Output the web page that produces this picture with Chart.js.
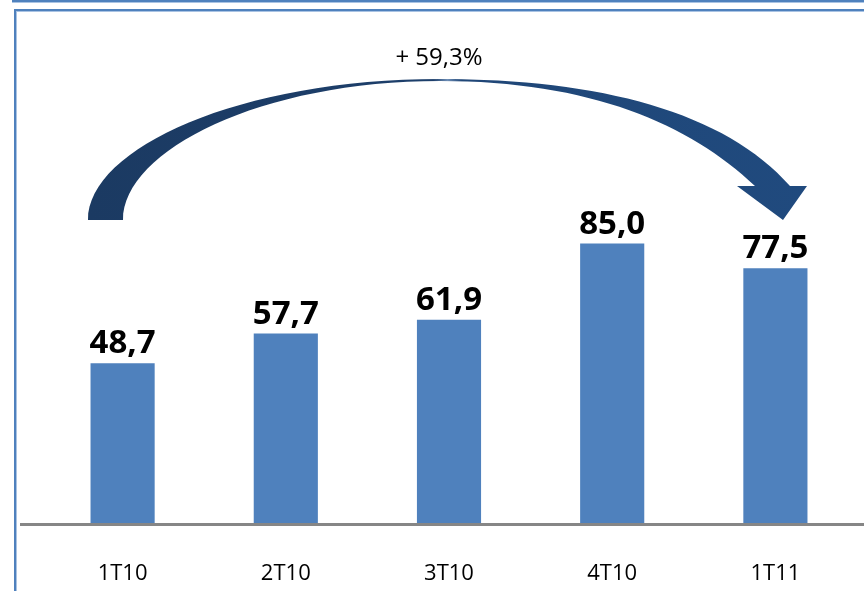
<!DOCTYPE html>
<html>
<head>
<meta charset="utf-8">
<script src="https://cdn.jsdelivr.net/npm/chart.js@4.4.1/dist/chart.umd.min.js"></script>
<style>
  body { margin: 0; background: #fff; }
  .wrap { position: relative; width: 864px; height: 591px; overflow: hidden; }
  .topline { position: absolute; left: 12px; top: 0; right: 0; height: 2px; background: #4f81bd; box-shadow: 0 1px 0 #a9c3e3; }
  .frame { position: absolute; left: 14px; top: 9px; right: -10px; bottom: -10px;
           border-top: 2px solid #4f81bd; border-left: 2px solid #4f81bd;
           box-shadow: inset 1px 1px 0 #a9c3e3; }
  canvas { position: absolute; left: 0; top: 0; }
</style>
</head>
<body>
<div class="wrap">
  <div class="topline"></div>
  <div class="frame"></div>
  <canvas id="myChart" width="864" height="591"></canvas>
</div>
<script>
const categories = ['1T10', '2T10', '3T10', '4T10', '1T11'];
const values = [48.7, 57.7, 61.9, 85.0, 77.5];
const growthLabel = '+ 59,3%';

function fmt(v) {
  return v.toFixed(1).replace('.', ',');
}

// value labels above the bars
const barLabels = {
  id: 'barLabels',
  afterDatasetsDraw(chart) {
    const ctx = chart.ctx;
    const meta = chart.getDatasetMeta(0);
    ctx.save();
    ctx.font = 'bold 33px "Open Sans"';
    ctx.fillStyle = '#000';
    ctx.textAlign = 'center';
    ctx.textBaseline = 'alphabetic';
    meta.data.forEach((bar, i) => {
      ctx.fillText(fmt(values[i]), bar.x, bar.y - 10);
    });
    ctx.restore();
  }
};

// gray baseline + curved growth arrow
const decor = {
  id: 'decor',
  afterDatasetsDraw(chart) {
    const ctx = chart.ctx;
    const area = chart.chartArea;
    ctx.save();
    ctx.fillStyle = '#868686';
    ctx.fillRect(20, area.bottom - 1, chart.width - 20, 3);

    const grad = ctx.createLinearGradient(88, 0, 807, 0);
    grad.addColorStop(0, '#1b3a62');
    grad.addColorStop(0.48, '#1d3f6b');
    grad.addColorStop(0.5, '#6d8db5');
    grad.addColorStop(0.52, '#1f4677');
    grad.addColorStop(1, '#204a7e');
    ctx.fillStyle = grad;

    ctx.beginPath();
    ctx.moveTo(88, 220);
    ctx.bezierCurveTo(88, 148, 240, 79, 440, 79);
    ctx.bezierCurveTo(600, 79, 725, 112, 790, 186);
    ctx.lineTo(807, 186);
    ctx.lineTo(783, 220);
    ctx.lineTo(737, 186);
    ctx.lineTo(755, 186);
    ctx.bezierCurveTo(690, 124, 590, 81, 440, 81);
    ctx.bezierCurveTo(262, 81, 123, 150, 123, 220);
    ctx.closePath();
    ctx.fill();

    ctx.font = '24px "Open Sans"';
    ctx.fillStyle = '#000';
    ctx.textAlign = 'center';
    ctx.textBaseline = 'middle';
    ctx.fillText(growthLabel, 439, 58);
    ctx.restore();
  }
};

const ctx = document.getElementById('myChart').getContext('2d');
const myChart = new Chart(ctx, {
  type: 'bar',
  data: {
    labels: categories,
    datasets: [{
      data: values,
      backgroundColor: '#4f81bd',
      borderWidth: 0,
      barPercentage: 0.393,
      categoryPercentage: 1
    }]
  },
  options: {
    responsive: false,
    animation: false,
    devicePixelRatio: 1,
    layout: {
      padding: { left: 41, right: 7, top: 29, bottom: 5 }
    },
    scales: {
      y: {
        display: false,
        min: 0,
        max: 150
      },
      x: {
        grid: { display: false },
        border: { display: false },
        afterFit: (scale) => { scale.height = 62; },
        ticks: {
          color: '#000',
          padding: 29,
          font: { family: 'Open Sans', size: 22 }
        }
      }
    },
    plugins: {
      legend: { display: false },
      tooltip: { enabled: false }
    }
  },
  plugins: [barLabels, decor]
});
</script>
</body>
</html>
